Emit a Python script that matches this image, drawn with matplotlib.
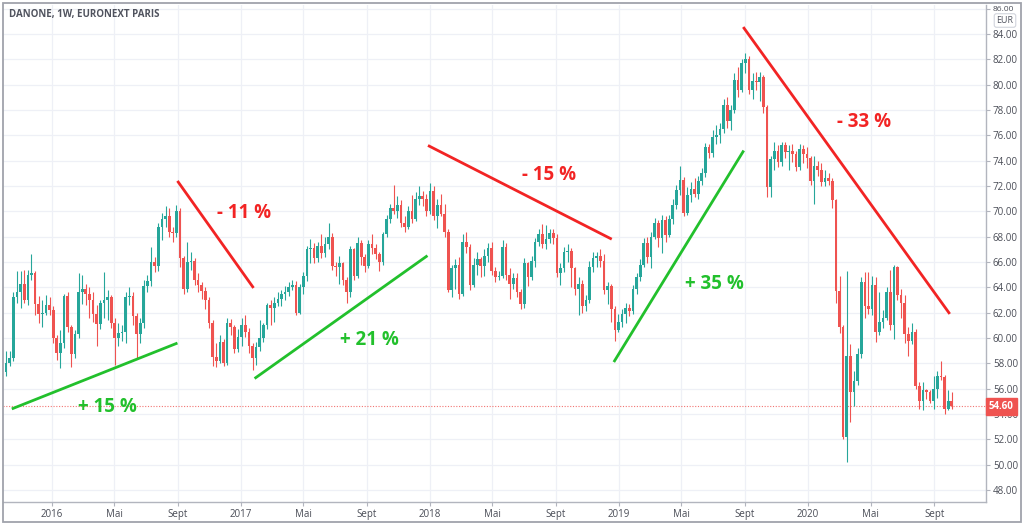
import matplotlib
matplotlib.use("Agg")
import matplotlib.pyplot as plt
import matplotlib.dates as mdates
import matplotlib.transforms as mtransforms
from matplotlib.patches import Rectangle
import numpy as np

# ---------------- data (weekly candles) ----------------
first_week = "2015-10-05"
first_open = 57.3

closes = [
    58.0, 58.4, 63.2, 63.6, 64.3, 63.0, 65.0, 65.1, 62.7, 61.9,
    62.0, 62.6, 62.2, 60.0, 58.8, 59.6, 63.3, 60.9, 58.7, 60.3,
    63.6, 63.9, 63.5, 63.0, 61.9, 61.1, 62.8, 63.0, 63.2, 61.2,
    60.0, 60.4, 60.5, 63.2, 63.3, 61.7, 60.3, 61.2, 64.1, 64.5,
    66.0, 65.7, 68.8, 69.4, 69.6, 68.4, 68.3, 70.0, 66.3, 63.9,
    66.0, 66.1, 64.6, 64.2, 63.7, 63.0, 61.2, 58.5, 58.2, 59.7,
    58.0, 61.2, 60.9, 59.1, 60.1, 61.0, 60.5, 59.4, 58.4, 59.3,
    60.0, 61.0, 62.6, 62.4, 62.8, 63.1, 63.5, 63.6, 64.0, 64.2,
    62.0, 64.0, 64.9, 67.0, 67.1, 66.3, 67.3, 66.7, 67.4, 68.0,
    65.7, 65.6, 65.9, 64.6, 63.6, 67.0, 64.9, 67.5, 66.4, 65.7,
    67.4, 67.1, 66.6, 66.0, 68.2, 69.4, 70.3, 70.0, 70.5, 69.1,
    68.8, 70.0, 69.4, 71.0, 71.2, 71.0, 70.0, 71.6, 69.6, 70.5,
    69.8, 68.4, 63.8, 65.5, 65.8, 63.5, 67.6, 67.2, 64.2, 65.8,
    66.2, 65.7, 66.5, 67.1, 65.3, 64.8, 64.9, 67.2, 65.0, 64.3,
    64.7, 63.6, 62.7, 65.9, 64.8, 66.1, 67.6, 68.2, 67.4, 67.8,
    68.3, 67.9, 65.1, 65.5, 66.8, 66.9, 65.5, 63.9, 64.3, 62.5,
    63.0, 65.6, 66.3, 66.5, 66.1, 63.8, 64.1, 62.3, 60.6, 61.3,
    61.9, 62.4, 62.1, 63.9, 64.8, 65.8, 67.5, 66.4, 68.0, 69.1,
    67.9, 69.3, 68.1, 69.4, 70.5, 71.7, 72.5, 69.9, 71.3, 71.8,
    71.4, 72.4, 73.0, 75.1, 74.6, 75.9, 76.0, 76.5, 78.4, 77.1,
    78.0, 80.4, 79.6, 81.7, 82.0, 79.6, 80.3, 80.2, 80.6, 78.2,
    71.9, 74.1, 74.8, 73.9, 75.2, 74.7, 74.8, 74.5, 73.5, 74.9,
    74.5, 74.2, 72.4, 73.6, 73.3, 72.3, 72.6, 72.4, 70.9, 63.7,
    60.9, 52.2, 58.6, 55.7, 56.6, 58.7, 64.4, 62.5, 62.3, 64.2,
    60.5, 61.3, 61.6, 63.6, 61.0, 65.6, 63.4, 62.8, 60.3, 59.8,
    60.5, 56.2, 55.0, 55.9, 55.7, 55.0, 56.0, 57.0, 56.9, 54.4,
    55.0, 54.6,
]

highs = [
    59.0, 59.0, 63.6, 65.3, 65.3, 65.4, 65.4, 66.6, 65.3, 63.3,
    63.0, 63.4, 63.2, 62.5, 60.2, 60.6, 63.5, 63.6, 61.0, 60.6,
    65.1, 65.0, 64.3, 64.0, 63.6, 62.6, 63.0, 65.2, 63.8, 63.4,
    61.6, 61.2, 61.0, 63.6, 64.0, 63.6, 62.0, 61.6, 64.6, 65.0,
    67.2, 66.4, 69.1, 69.9, 70.4, 70.3, 68.8, 70.5, 70.3, 66.5,
    67.6, 66.8, 66.3, 65.1, 64.4, 64.0, 63.2, 61.4, 59.6, 60.2,
    59.9, 61.6, 61.5, 61.0, 60.7, 61.6, 61.8, 60.8, 59.6, 59.7,
    61.4, 61.2, 62.8, 63.0, 63.2, 63.6, 63.8, 64.1, 64.4, 64.6,
    64.5, 64.3, 65.2, 67.3, 67.8, 67.5, 67.6, 68.2, 68.0, 69.1,
    68.3, 66.0, 66.5, 66.0, 64.8, 67.3, 67.1, 68.0, 67.7, 66.6,
    67.7, 68.2, 67.4, 66.8, 68.4, 69.7, 70.6, 72.1, 71.2, 70.9,
    69.6, 70.4, 71.3, 71.5, 72.0, 71.6, 71.4, 72.2, 72.0, 71.0,
    71.4, 70.6, 68.6, 65.8, 66.2, 66.4, 68.2, 68.4, 67.4, 66.3,
    66.8, 66.4, 67.0, 67.5, 67.6, 65.6, 65.3, 67.7, 67.5, 65.5,
    65.1, 65.1, 63.9, 66.3, 66.0, 66.5, 67.9, 68.6, 69.0, 68.9,
    68.6, 68.6, 68.2, 65.9, 67.2, 67.4, 67.1, 65.6, 64.8, 64.6,
    63.4, 66.1, 66.8, 66.8, 67.0, 66.6, 64.4, 64.3, 62.5, 61.9,
    62.3, 62.8, 62.7, 64.2, 65.1, 66.2, 67.9, 68.0, 68.4, 69.5,
    69.3, 69.7, 69.6, 69.7, 71.0, 72.1, 73.6, 72.7, 71.9, 72.3,
    72.6, 72.8, 73.4, 75.4, 75.3, 76.4, 76.8, 77.0, 78.9, 79.0,
    78.4, 80.9, 81.4, 82.0, 82.5, 82.3, 80.9, 81.0, 81.0, 80.8,
    78.4, 74.4, 75.5, 75.2, 75.5, 75.5, 75.2, 75.3, 74.8, 75.3,
    75.2, 75.1, 74.4, 74.4, 74.0, 73.8, 73.3, 73.0, 72.6, 71.0,
    64.9, 61.0, 65.3, 59.5, 57.4, 59.2, 64.8, 65.2, 65.2, 64.9,
    64.8, 63.6, 62.2, 64.0, 65.4, 65.8, 65.7, 63.9, 63.4, 60.9,
    61.2, 60.7, 56.5, 56.5, 56.0, 55.9, 57.0, 57.4, 58.2, 57.1,
    55.9, 55.7,
]

lows = [
    57.0, 57.8, 58.2, 62.8, 62.4, 62.8, 62.6, 64.6, 61.8, 61.2,
    60.9, 61.8, 61.8, 59.6, 58.3, 57.6, 59.2, 60.5, 57.7, 58.4,
    60.0, 62.7, 62.6, 61.6, 61.3, 59.4, 60.7, 61.6, 61.4, 60.8,
    57.9, 59.4, 59.8, 59.6, 62.6, 61.0, 58.4, 59.6, 60.8, 63.6,
    64.1, 65.2, 65.3, 67.7, 68.8, 68.0, 67.6, 68.0, 65.6, 63.5,
    63.6, 65.4, 64.2, 63.6, 63.1, 62.3, 60.8, 57.8, 57.7, 58.0,
    57.8, 57.9, 60.2, 58.8, 58.9, 59.4, 60.1, 58.8, 57.5, 57.9,
    59.0, 59.7, 60.7, 61.0, 61.3, 62.5, 62.5, 63.0, 63.3, 63.8,
    61.8, 61.9, 63.5, 64.5, 65.9, 65.9, 66.0, 66.3, 66.4, 67.0,
    65.4, 64.9, 64.3, 64.2, 62.8, 63.2, 64.6, 64.7, 65.8, 65.2,
    65.5, 66.6, 66.2, 65.3, 65.8, 68.0, 69.1, 69.8, 69.5, 68.8,
    68.4, 68.6, 69.1, 69.2, 70.5, 70.4, 69.6, 69.8, 69.3, 68.7,
    69.6, 68.0, 63.6, 63.2, 63.9, 63.1, 63.3, 66.7, 63.8, 64.0,
    65.0, 64.8, 64.9, 66.0, 65.0, 64.4, 64.6, 64.7, 64.6, 63.1,
    63.9, 63.2, 62.3, 62.4, 64.1, 64.6, 65.6, 67.3, 67.1, 67.0,
    67.5, 67.4, 64.8, 64.2, 65.2, 66.0, 64.0, 63.4, 61.8, 62.0,
    62.1, 62.8, 65.2, 65.6, 65.6, 63.5, 62.7, 61.3, 59.8, 60.5,
    60.9, 61.2, 61.7, 61.9, 63.5, 64.5, 65.6, 65.9, 65.5, 67.8,
    67.2, 66.7, 67.6, 68.0, 69.0, 70.2, 71.3, 69.6, 69.7, 70.7,
    71.1, 71.0, 72.1, 72.7, 74.2, 74.3, 75.3, 75.4, 76.2, 76.6,
    76.4, 77.8, 79.0, 79.4, 80.9, 79.3, 78.9, 79.6, 78.7, 77.8,
    71.1, 71.1, 73.3, 73.5, 73.6, 74.2, 73.3, 73.9, 73.2, 73.3,
    73.8, 73.4, 72.1, 70.6, 72.8, 72.0, 72.0, 72.1, 70.3, 62.8,
    60.4, 52.0, 50.2, 53.4, 54.6, 56.3, 58.4, 61.6, 61.9, 61.8,
    59.7, 60.2, 60.8, 61.4, 60.6, 59.9, 63.0, 61.6, 59.6, 58.6,
    59.5, 56.0, 54.4, 54.3, 55.2, 54.9, 54.4, 55.3, 56.7, 54.0,
    54.3, 54.4,
]

last_price = 54.60

# trend annotations (data coordinates)
trend_start_dates = ["2015-10-16", "2016-08-31", "2017-01-27", "2017-12-28", "2018-12-22", "2019-08-29"]
trend_start_prices = [54.4, 72.4, 56.8, 75.2, 58.1, 84.55]
trend_end_dates = ["2016-08-31", "2017-01-25", "2017-12-27", "2018-12-18", "2019-08-30", "2020-10-01"]
trend_end_prices = [59.6, 63.95, 66.5, 67.8, 74.8, 61.9]
trend_labels = ["+ 15 %", "- 11 %", "+ 21 %", "- 15 %", "+ 35 %", "- 33 %"]
trend_up = [True, False, True, False, True, False]
label_dates = ["2016-04-18", "2017-01-06", "2017-09-06", "2018-08-18", "2019-07-05", "2020-04-18"]
label_prices = [54.55, 69.9, 59.85, 72.9, 64.3, 77.05]

xtick_dates = ["2016-01-01", "2016-05-01", "2016-09-01",
               "2017-01-01", "2017-05-01", "2017-09-01",
               "2018-01-01", "2018-05-01", "2018-09-01",
               "2019-01-01", "2019-05-01", "2019-09-01",
               "2020-01-01", "2020-05-01", "2020-09-01"]
xtick_labels = ["2016", "Mai", "Sept", "2017", "Mai", "Sept", "2018", "Mai", "Sept",
                "2019", "Mai", "Sept", "2020", "Mai", "Sept"]
ytick_values = [48, 50, 52, 54, 56, 58, 60, 62, 64, 66, 68, 70, 72, 74, 76, 78, 80, 82, 84, 86]

# ---------------- styling ----------------
UP = "#26a69a"
DOWN = "#ef5350"
GREEN_LINE = "#22c02c"
RED_LINE = "#f22424"
GRID = "#eef0f6"
AXIS_COL = "#b2b5be"
TXT = "#4a4d57"

plt.rcParams["font.family"] = ["Open Sans", "DejaVu Sans"]

fig = plt.figure(figsize=(10.24, 5.27), dpi=100)
W, H = 1024, 527
ax = fig.add_axes([3 / W, 1 - 502 / H, (986 - 3) / W, (502 - 5) / H])

n = len(closes)
dates = np.datetime64(first_week) + np.arange(n) * np.timedelta64(7, "D")
x = mdates.date2num(dates.astype("datetime64[D]").astype(object))
opens = [first_open] + closes[:-1]

o = np.array(opens)
c = np.array(closes)
h = np.array(highs)
l = np.array(lows)
colors = [UP if cc >= oo else DOWN for oo, cc in zip(o, c)]

ax.vlines(x, l, h, colors=colors, linewidth=0.8, zorder=3)
body_bottom = np.minimum(o, c)
body_height = np.maximum(np.abs(c - o), 0.08)
ax.bar(x, body_height, bottom=body_bottom, width=5.2, color=colors,
       edgecolor="none", linewidth=0, zorder=4)

# last price dotted line
ax.axhline(last_price, color=DOWN, linestyle=(0, (1, 1.5)), linewidth=0.8, alpha=0.8, zorder=2)

# trend lines + labels
for sd, sp, ed, ep, lab, up, ld, lp in zip(trend_start_dates, trend_start_prices,
                                             trend_end_dates, trend_end_prices,
                                             trend_labels, trend_up, label_dates, label_prices):
    col = GREEN_LINE if up else RED_LINE
    xs = mdates.datestr2num([sd, ed])
    ax.plot(xs, [sp, ep], color=col, linewidth=2.0, solid_capstyle="butt", zorder=5)
    ax.text(mdates.datestr2num(ld), lp, lab, color=col, fontsize=13.5, fontweight="bold",
            ha="center", va="center", zorder=6)

# axes limits
ax.set_xlim(mdates.datestr2num("2015-09-29"), mdates.datestr2num("2020-12-10"))
ax.set_ylim(47.05, 86.29)

# grid
xt = mdates.datestr2num(xtick_dates)
ax.set_xticks(xt)
ax.set_xticklabels(xtick_labels)
ax.set_yticks(ytick_values)
ax.set_yticklabels([f"{v:.2f}" for v in ytick_values])
ax.grid(True, color=GRID, linewidth=0.9, zorder=0)
ax.set_axisbelow(True)

ax.yaxis.tick_right()
ax.tick_params(axis="y", which="both", length=3, width=0.8, color=AXIS_COL,
               labelsize=7, labelcolor=TXT, pad=2)
ax.tick_params(axis="x", which="both", length=3, width=0.8, color=AXIS_COL,
               labelsize=7, labelcolor=TXT, pad=2)

for side in ["top", "left"]:
    ax.spines[side].set_visible(False)
for side in ["right", "bottom"]:
    ax.spines[side].set_color(AXIS_COL)
    ax.spines[side].set_linewidth(1.0)

# topmost price label slightly smaller so it fits above the currency box
top_label = ax.get_yticklabels()[-1]
top_label.set_fontsize(6)

# last price label on the price axis
trans = mtransforms.blended_transform_factory(ax.transAxes, ax.transData)
ax.text(1.003, last_price, f"{last_price:.2f}", transform=trans, ha="left", va="center",
        fontsize=7, color="white", fontweight="bold", zorder=10, clip_on=False,
        bbox=dict(boxstyle="square,pad=0.3", facecolor=DOWN, edgecolor=DOWN))

# title
fig.text(9 / W, 1 - 15 / H, "DANONE, 1W, EURONEXT PARIS", fontsize=7, color="#50535e",
         fontweight="bold", ha="left", va="center")

# currency box
fig.text(1005 / W, 1 - 20.5 / H, "EUR", fontsize=6.5, color="#50535e", ha="center", va="center",
         bbox=dict(boxstyle="round,pad=0.25", facecolor="white", edgecolor="#d1d4dc", linewidth=0.8),
         zorder=20)

# outer frame
fig.patches.append(Rectangle((2.5 / W, 1 - 521.5 / H), (1020.5 - 2.5) / W, (521.5 - 3) / H,
                             transform=fig.transFigure, fill=False, edgecolor="#a0a3ab",
                             linewidth=1.3, zorder=30))

fig.savefig("out.png", dpi=100, facecolor="white")
